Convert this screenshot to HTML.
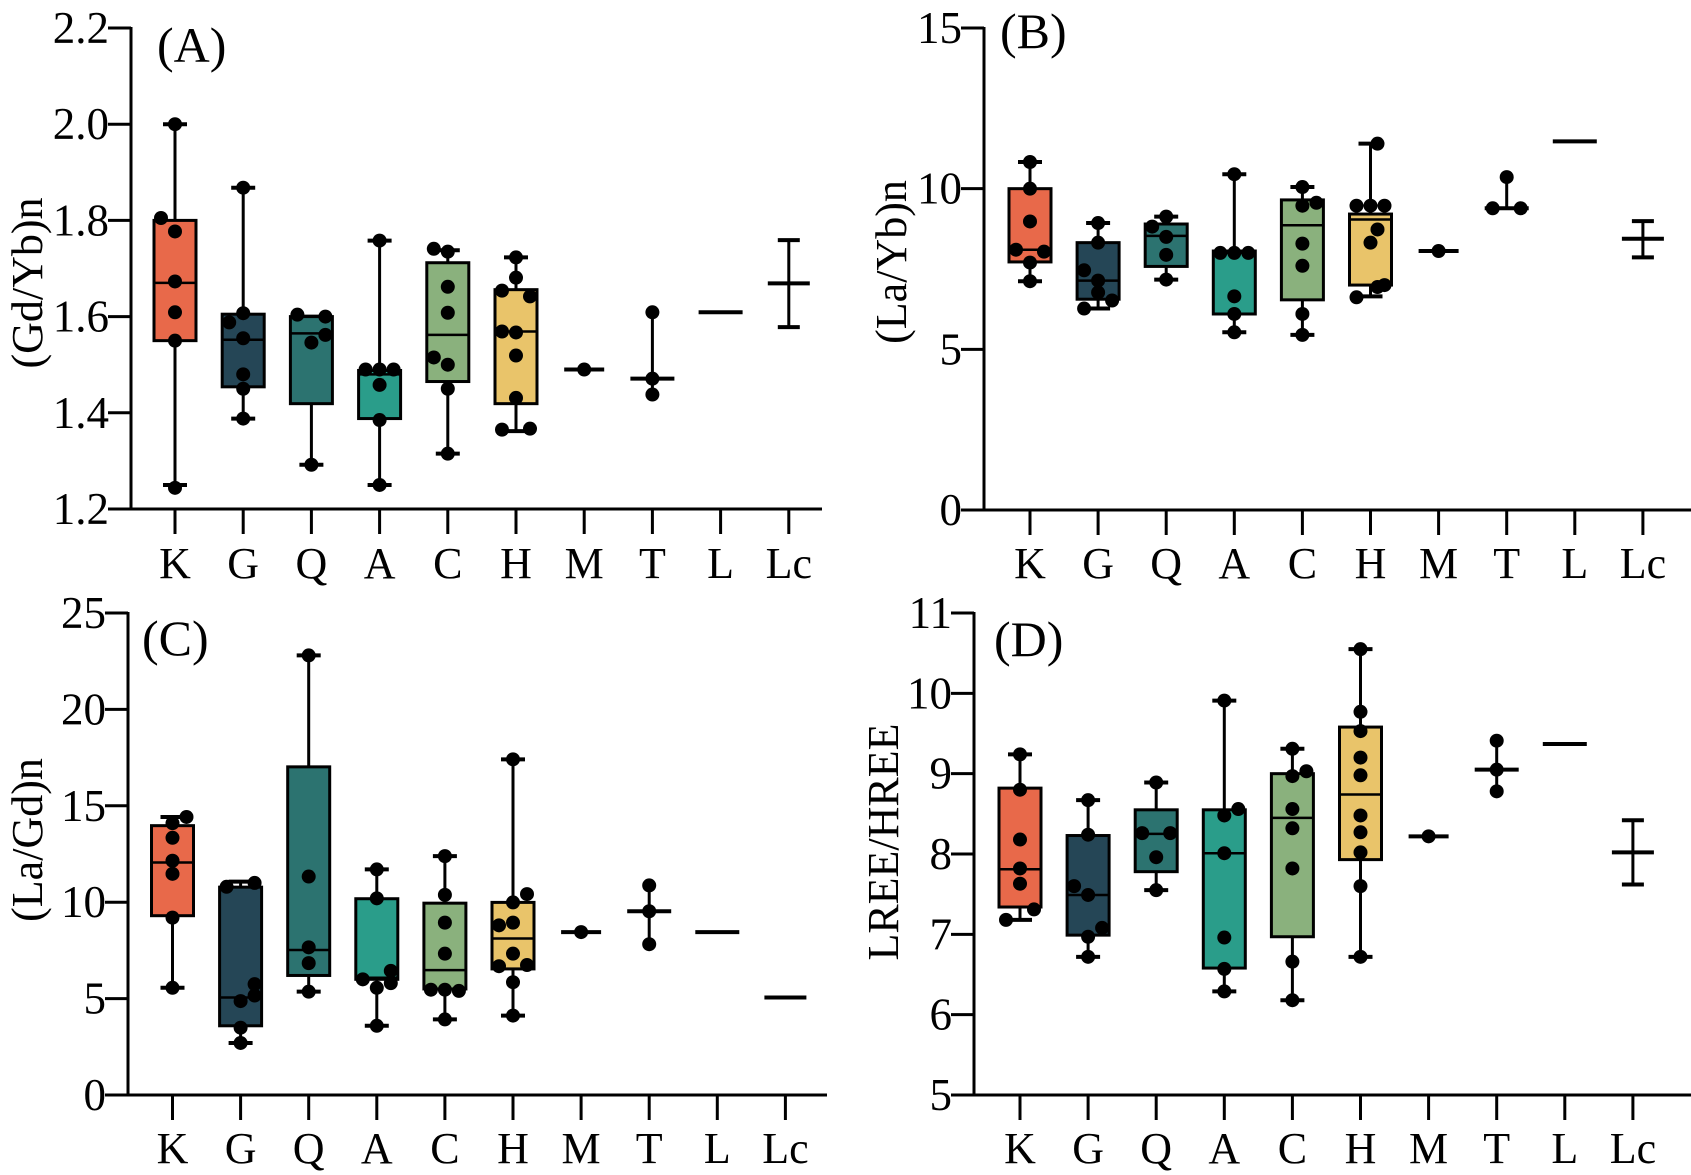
<!DOCTYPE html>
<html><head><meta charset="utf-8">
<style>
html,body{margin:0;padding:0;background:#fff;}
svg{display:block;}
text{font-family:"Liberation Serif",serif;fill:#000;}
</style></head>
<body>
<svg id="chart" width="1691" height="1175" viewBox="0 0 1691 1175" xmlns="http://www.w3.org/2000/svg"></svg>
<script>
const categories = ["K","G","Q","A","C","H","M","T","L","Lc"];
const boxColors = ["#e8694a","#254656","#2c7370","#2a9d8a","#8ab17d","#e9c46a"];

// Panel A: (Gd/Yb)n  box stats [min,q1,median,q3,max]
const statsA = [[1.25,1.55,1.67,1.80,2.00],[1.388,1.454,1.552,1.605,1.868],[1.292,1.419,1.565,1.60,1.60],[1.25,1.388,1.48,1.488,1.758],[1.315,1.465,1.562,1.712,1.738],[1.362,1.419,1.569,1.656,1.723]];
const pointsA = [
 [[2.0,0],[1.805,-1],[1.777,0],[1.673,0],[1.609,0],[1.55,0],[1.244,0]],
 [[1.868,0],[1.607,0],[1.588,-1],[1.555,0],[1.48,0],[1.45,0],[1.388,0]],
 [[1.604,-1],[1.6,1],[1.562,1],[1.546,0],[1.292,0]],
 [[1.758,0],[1.49,-1],[1.49,1],[1.49,0],[1.458,0],[1.385,0],[1.25,0]],
 [[1.741,-1],[1.735,0],[1.662,0],[1.608,0],[1.515,-1],[1.5,0],[1.45,0],[1.315,0]],
 [[1.723,0],[1.681,0],[1.654,-1],[1.642,1],[1.569,-1],[1.567,0],[1.519,0],[1.431,0],[1.365,-1],[1.367,1]]
];
const singleMA = 1.49;
const rangeTA = [1.438,1.471,1.609];
const pointsTA = [[1.609,0],[1.471,0],[1.438,0]];
const lineLA = 1.609;
const meanLcA = [1.578,1.669,1.759];
const ticksA = [1.2,1.4,1.6,1.8,2.0,2.2];
const tickLabelsA = ["1.2","1.4","1.6","1.8","2.0","2.2"];

// Panel B: (La/Yb)n
const statsB = [[7.12,7.72,8.1,10.0,10.83],[6.27,6.56,7.14,8.32,8.93],[7.17,7.58,8.53,8.9,9.13],[5.53,6.1,8.0,8.06,10.45],[5.45,6.54,8.86,9.65,10.05],[6.65,7.0,9.04,9.21,11.4]];
const pointsB = [
 [[10.83,0],[10.0,0],[8.98,0],[8.1,-1],[8.04,1],[7.7,0],[7.12,0]],
 [[8.93,0],[8.32,0],[7.46,-1],[7.14,0],[6.77,0],[6.52,1],[6.27,-1]],
 [[9.13,0],[8.82,-1],[8.5,0],[7.94,0],[7.17,0]],
 [[10.45,0],[8.0,-1],[8.0,0],[8.0,1],[6.65,0],[6.1,0],[5.53,0]],
 [[10.05,0],[9.56,1],[9.47,0],[8.29,0],[7.6,0],[6.1,0],[5.45,0]],
 [[11.4,0.5],[9.47,-1],[9.47,0],[9.47,1],[8.73,0.5],[8.32,0],[7.0,1],[6.94,0.5],[6.62,-1]]
];
const singleMB = 8.06;
const rangeTB = [9.39,9.39,10.36];
const pointsTB = [[10.36,0],[9.39,-1],[9.39,1]];
const lineLB = 11.47;
const meanLcB = [7.86,8.44,8.99];
const ticksB = [0,5,10,15];
const tickLabelsB = ["0","5","10","15"];

// Panel C: (La/Gd)n
const statsC = [[5.56,9.3,12.06,13.97,14.42],[2.7,3.59,5.06,10.78,11.07],[5.36,6.2,7.52,17.02,22.8],[3.59,6.0,6.08,10.18,11.7],[3.92,5.5,6.48,9.95,12.39],[4.12,6.54,8.12,9.99,17.41]];
const pointsC = [
 [[14.42,1],[14.1,0],[13.34,0],[12.15,0],[11.47,0],[9.2,0],[5.56,0]],
 [[11.0,1],[10.8,-1],[5.75,1],[5.16,1],[4.87,0],[3.49,0],[2.7,0]],
 [[22.8,0],[11.33,0],[7.66,0],[6.84,0],[5.36,0]],
 [[11.7,0],[10.2,0],[6.0,-1],[6.44,1],[5.8,1],[5.56,0],[3.59,0]],
 [[12.39,0],[10.38,0],[8.94,0],[7.33,0],[5.46,-1],[5.46,0],[5.4,1],[3.92,0]],
 [[17.41,0],[10.42,1],[9.99,0],[8.94,0],[8.8,-1],[7.33,0],[6.68,-1],[6.74,1],[5.85,0],[4.12,0]]
];
const singleMC = 8.45;
const rangeTC = [7.82,9.53,10.87];
const pointsTC = [[10.87,0],[9.53,0],[7.82,0]];
const lineLC = 8.45;
const meanLcC = [5.06,5.06,5.06];
const ticksC = [0,5,10,15,20,25];
const tickLabelsC = ["0","5","10","15","20","25"];

// Panel D: LREE/HREE
const statsD = [[7.18,7.34,7.81,8.82,9.24],[6.72,6.99,7.49,8.23,8.67],[7.55,7.78,8.25,8.55,8.89],[6.29,6.58,8.01,8.55,9.91],[6.18,6.97,8.45,9.0,9.31],[6.72,7.93,8.74,9.58,10.55]];
const pointsD = [
 [[9.24,0],[8.8,0],[8.18,0],[7.82,0],[7.63,0],[7.31,1],[7.18,-1]],
 [[8.67,0],[8.24,0],[7.6,-1],[7.49,0],[7.08,1],[6.97,0],[6.72,0]],
 [[8.89,0],[8.26,-1],[8.26,1],[7.96,0],[7.55,0]],
 [[9.91,0],[8.48,0],[8.56,1],[8.01,0],[6.96,0],[6.57,0],[6.29,0]],
 [[9.31,0],[9.03,1],[8.97,0],[8.56,0],[8.32,0],[7.82,0],[6.66,0],[6.18,0]],
 [[10.55,0],[9.77,0],[9.53,0],[9.2,0],[8.98,0],[8.48,0],[8.27,0],[8.02,0],[7.6,0],[6.72,0]]
];
const singleMD = 8.22;
const rangeTD = [8.78,9.05,9.41];
const pointsTD = [[9.41,0],[9.05,0],[8.78,0]];
const lineLD = 9.37;
const meanLcD = [7.62,8.02,8.42];
const ticksD = [5,6,7,8,9,10,11];
const tickLabelsD = ["5","6","7","8","9","10","11"];

const NS = "http://www.w3.org/2000/svg";
const svg = document.getElementById("chart");
function mk(tag, attrs, parent){
  const e = document.createElementNS(NS, tag);
  for (const k in attrs) e.setAttribute(k, attrs[k]);
  (parent||svg).appendChild(e);
  return e;
}

function drawPanel(p){
  const g = mk("g", {});
  
  
  const y = v => p.yBottom - (v - p.vMin) / (p.vMax - p.vMin) * (p.yBottom - p.yTop);
  const x = i => p.x0 + i * p.dx;
  const BW = 21, CAP = 12, R = 7, JIT = 14;
  const ya = mk("line", {x1:p.axisX, y1:p.yTop-1, x2:p.axisX, y2:p.yBottom, stroke:"#000","stroke-width":3}, g);
  
  
  p.ticks.forEach((t, k) => {
    const tl = mk("line", {x1:p.axisX-23, y1:y(t), x2:p.axisX, y2:y(t), stroke:"#000","stroke-width":3}, g);
    
    
    const tx = mk("text", {x:p.axisX-22, y:y(t)+15, "text-anchor":"end","font-size":45}, g);
    tx.textContent = p.tickLabels[k];
    
    
  });
  const xa = mk("line", {x1:p.axisX-23, y1:p.yBottom, x2:p.xEnd, y2:p.yBottom, stroke:"#000","stroke-width":3}, g);
  
  
  categories.forEach((c, i) => {
    const tl = mk("line", {x1:x(i), y1:p.yBottom, x2:x(i), y2:p.yBottom+25, stroke:"#000","stroke-width":3}, g);
    
    
    const tx = mk("text", {x:x(i), y:p.labelY, "text-anchor":"middle","font-size":44}, g);
    tx.textContent = c;
    
    
  });
  const yt = mk("text", {x:0, y:0, "text-anchor":"middle","font-size":44, transform:`translate(${p.titleX},${p.titleY}) rotate(-90)`}, g);
  yt.textContent = p.title;
  
  
  const pl = mk("text", {x:p.labX, y:p.labY, "font-size":50}, g);
  pl.textContent = "(" + p.id + ")";
  
  

  const dots = (i, pts) => pts.forEach(pt => {
    const d = mk("circle", {cx:x(i)+pt[1]*JIT, cy:y(pt[0]), r:R, fill:"#000"}, g);
    
    
  });
  const hline = (cx, v, hw, name) => {
    const l = mk("line", {x1:cx-hw, y1:y(v), x2:cx+hw, y2:y(v), stroke:"#000","stroke-width":4}, g);
    
    
  };
  const vline = (cx, a, b, name) => {
    const l = mk("line", {x1:cx, y1:y(a), x2:cx, y2:y(b), stroke:"#000","stroke-width":3}, g);
    
    
  };
  p.stats.forEach((s, i) => {
    const cx = x(i);
    vline(cx, s[0], s[4], 'whisker-' + categories[i].toLowerCase());
    hline(cx, s[0], CAP, 'whisker-cap');
    hline(cx, s[4], CAP, 'whisker-cap');
    const b = mk("rect", {x:cx-BW, y:y(s[3]), width:2*BW, height:Math.max(1, y(s[1])-y(s[3])), fill:boxColors[i], stroke:"#000","stroke-width":3}, g);
    
    
    const m = mk("line", {x1:cx-BW, y1:y(s[2]), x2:cx+BW, y2:y(s[2]), stroke:"#000","stroke-width":2.5}, g);
    
    
    dots(i, p.points[i]);
  });
  hline(x(6), p.singleM, 20, 'median-m');
  dots(6, [[p.singleM, 0]]);
  vline(x(7), p.rangeT[0], p.rangeT[2], 'whisker-t');
  hline(x(7), p.rangeT[1], 22, 'median-t');
  dots(7, p.pointsT);
  hline(x(8), p.lineL, 22, 'value-l');
  vline(x(9), p.meanLc[0], p.meanLc[2], 'error-bar-lc');
  hline(x(9), p.meanLc[0], 11, 'error-cap');
  hline(x(9), p.meanLc[2], 11, 'error-cap');
  hline(x(9), p.meanLc[1], 21, 'mean-lc');
}

drawPanel({id:"A", title:"(Gd/Yb)n", axisX:131, yTop:28, yBottom:509, vMin:1.2, vMax:2.2, x0:175, dx:68.2, xEnd:822, labelY:578,
  titleX:42, titleY:283, labX:157, labY:62, ticks:ticksA, tickLabels:tickLabelsA,
  stats:statsA, points:pointsA, singleM:singleMA, rangeT:rangeTA, pointsT:pointsTA, lineL:lineLA, meanLc:meanLcA});
drawPanel({id:"B", title:"(La/Yb)n", axisX:984, yTop:28, yBottom:510, vMin:0, vMax:15, x0:1030, dx:68.1, xEnd:1691, labelY:578,
  titleX:906, titleY:262, labX:1000, labY:48, ticks:ticksB, tickLabels:tickLabelsB,
  stats:statsB, points:pointsB, singleM:singleMB, rangeT:rangeTB, pointsT:pointsTB, lineL:lineLB, meanLc:meanLcB});
drawPanel({id:"C", title:"(La/Gd)n", axisX:128, yTop:613, yBottom:1095, vMin:0, vMax:25, x0:172.5, dx:68.1, xEnd:827, labelY:1163,
  titleX:42, titleY:840, labX:142, labY:655, ticks:ticksC, tickLabels:tickLabelsC,
  stats:statsC, points:pointsC, singleM:singleMC, rangeT:rangeTC, pointsT:pointsTC, lineL:lineLC, meanLc:meanLcC});
drawPanel({id:"D", title:"LREE/HREE", axisX:974, yTop:613, yBottom:1095, vMin:5, vMax:11, x0:1020, dx:68.1, xEnd:1691, labelY:1163,
  titleX:898, titleY:842, labX:994, labY:656, ticks:ticksD, tickLabels:tickLabelsD,
  stats:statsD, points:pointsD, singleM:singleMD, rangeT:rangeTD, pointsT:pointsTD, lineL:lineLD, meanLc:meanLcD});
</script>
</body></html>
